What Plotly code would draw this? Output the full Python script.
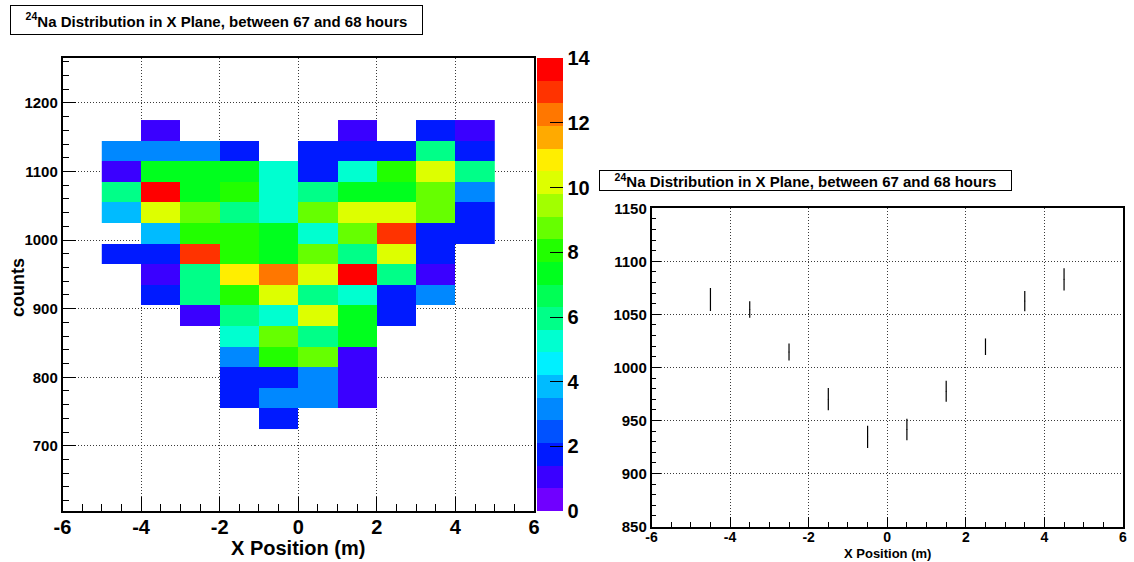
import plotly.graph_objects as go

# ---------------- data ----------------
x_centers = [-4.5, -3.5, -2.5, -1.5, -0.5, 0.5, 1.5, 2.5, 3.5, 4.5]
y_centers = [740, 770, 800, 830, 860, 890, 920, 950, 980, 1010, 1040, 1070, 1100, 1130, 1160]
N = None
counts = [
    [N, N, N, N, 2, N, N, N, N, N],        # 740
    [N, N, N, 2, 3, 3, 1, N, N, N],        # 770
    [N, N, N, 2, 2, 3, 1, N, N, N],        # 800
    [N, N, N, 3, 8, 9, 1, N, N, N],        # 830
    [N, N, N, 5, 9, 6, 7, N, N, N],        # 860
    [N, N, 1, 6, 5, 10, 7, 2, N, N],       # 890
    [N, 2, 6, 8, 10, 6, 5, 2, 3, N],       # 920
    [N, 1, 6, 11, 12, 10, 14, 6, 1, N],    # 950
    [2, 2, 13, 8, 7, 9, 6, 10, 2, N],      # 980
    [N, 4, 8, 8, 7, 5, 9, 13, 2, 2],       # 1010
    [4, 10, 9, 6, 5, 9, 10, 10, 9, 2],     # 1040
    [6, 14, 7, 8, 5, 6, 7, 7, 9, 3],       # 1070
    [1, 7, 7, 7, 5, 2, 5, 8, 10, 6],       # 1100
    [3, 3, 3, 2, N, 2, 2, 2, 6, 2],        # 1130
    [N, 1, N, N, N, N, 1, N, 2, 1],        # 1160
]

profile_x = [-4.5, -3.5, -2.5, -1.5, -0.5, 0.5, 1.5, 2.5, 3.5, 4.5]
profile_mean = [1064, 1054.5, 1014.5, 970, 934.5, 941.5, 977.5, 1019.5, 1062.5, 1083]
profile_err = [10.8, 7.8, 8.0, 10.5, 10.4, 10.1, 10.0, 7.8, 9.5, 10.5]

x_tickvals = [-6, -4, -2, 0, 2, 4, 6]
x_ticktext = ["-6", "-4", "-2", "0", "2", "4", "6"]
y_tickvals_left = [700, 800, 900, 1000, 1100, 1200]
y_tickvals_right = [850, 900, 950, 1000, 1050, 1100, 1150]
cbar_ticks = [0, 2, 4, 6, 8, 10, 12, 14]

title_text = "<sup>24</sup>Na Distribution in X Plane, between 67 and 68 hours"
x_title = "X Position (m)"
y_title = "counts"

palette = [
    "#7000FF", "#3A00FF", "#001AFF", "#0052FF", "#0088FF",
    "#00BBFF", "#00F0FF", "#00FFD0", "#00FF88", "#00FF55",
    "#00FF1E", "#22FF00", "#66FF00", "#A2FF00", "#DDFF00",
    "#FFEE00", "#FFAA00", "#FF7700", "#FF3300", "#FF0000",
]

# ---------------- figure ----------------
W, H = 1134, 562
FONT = "Liberation Sans"


def px_x(p):
    return p / W


def px_y(p):
    return 1 - p / H


# stepped colorscale (20 contour levels between 0 and 14)
n = len(palette)
colorscale = []
for i, c in enumerate(palette):
    lo = i / n
    hi = (i + 1) / n
    if abs(lo - 0.5) < 1e-9:
        lo = 0.4995
    if abs(hi - 0.5) < 1e-9:
        hi = 0.4995
    colorscale.append([lo, c])
    colorscale.append([hi, c])

fig = go.Figure()

fig.add_trace(go.Heatmap(
    x=x_centers, y=y_centers, z=counts,
    zmin=0, zmax=14, colorscale=colorscale,
    hoverongaps=False, xaxis="x", yaxis="y",
    colorbar=dict(
        x=px_x(537), xanchor="left", xpad=0,
        y=px_y((58.3 + 511) / 2), yanchor="middle", ypad=0,
        len=(511 - 58.3) / H, lenmode="fraction",
        thickness=26, thicknessmode="pixels",
        outlinewidth=0,
        tickmode="array", tickvals=cbar_ticks,
        ticks="inside", ticklen=13, tickcolor="black", tickwidth=1,
        tickfont=dict(family=FONT, size=20, color="black", weight="bold"),
    ),
))

fig.add_trace(go.Scatter(
    x=profile_x, y=profile_mean, mode="markers",
    marker=dict(size=1, color="black"),
    error_y=dict(type="data", array=profile_err, visible=True,
                 color="black", thickness=1.2, width=0),
    xaxis="x2", yaxis="y2", showlegend=False,
))

axis_common = dict(
    showline=True, linecolor="black", mirror=True, automargin=False,
    showgrid=True, gridcolor="#3a3a3a", griddash="1px,2px", gridwidth=1,
    zeroline=False, ticks="inside", tickcolor="black", tickwidth=1,
)

fig.update_layout(
    width=W, height=H, autosize=False,
    margin=dict(l=0, r=0, t=0, b=0, pad=0),
    paper_bgcolor="white", plot_bgcolor="white",
    showlegend=False,
    xaxis=dict(
        **axis_common,
        domain=[px_x(62.5), px_x(534)], range=[-6, 6], anchor="y",
        tickmode="array", tickvals=x_tickvals, ticktext=x_ticktext,
        ticklen=14, linewidth=1.5, ticklabelstandoff=-3,
        tickfont=dict(family=FONT, size=20, color="black", weight="bold"),
        minor=dict(ticks="inside", ticklen=7, tick0=-6, dtick=0.5,
                   tickcolor="black", showgrid=False),
    ),
    yaxis=dict(
        **axis_common,
        domain=[px_y(511), px_y(58.3)], range=[605, 1265], anchor="x",
        tickmode="array", tickvals=y_tickvals_left,
        ticklen=14, linewidth=1.5,
        tickfont=dict(family=FONT, size=15, color="black", weight="bold"),
        minor=dict(ticks="inside", ticklen=7, tick0=700, dtick=20,
                   tickcolor="black", showgrid=False),
    ),
    xaxis2=dict(
        **axis_common,
        domain=[px_x(651.5), px_x(1123)], range=[-6, 6], anchor="y2",
        tickmode="array", tickvals=x_tickvals, ticktext=x_ticktext,
        ticklen=10, linewidth=1.5, ticklabelstandoff=-3,
        tickfont=dict(family=FONT, size=14, color="black", weight="bold"),
        minor=dict(ticks="inside", ticklen=5, tick0=-6, dtick=0.5,
                   tickcolor="black", showgrid=False),
    ),
    yaxis2=dict(
        **axis_common,
        domain=[px_y(526.5), px_y(208.3)], range=[850, 1150], anchor="x2",
        tickmode="array", tickvals=y_tickvals_right,
        ticklen=10, linewidth=1.5,
        tickfont=dict(family=FONT, size=15, color="black", weight="bold"),
        minor=dict(ticks="inside", ticklen=5, tick0=850, dtick=10,
                   tickcolor="black", showgrid=False),
    ),
    annotations=[
        dict(text=title_text, xref="paper", yref="paper",
             x=px_x(216.5), y=px_y(20), xanchor="center", yanchor="middle",
             showarrow=False, bgcolor="white", bordercolor="black",
             borderwidth=1, borderpad=0, width=411, height=28,
             font=dict(family=FONT, size=15, color="black", weight="bold")),
        dict(text=title_text, xref="paper", yref="paper",
             x=px_x(805.5), y=px_y(180.5), xanchor="center", yanchor="middle",
             showarrow=False, bgcolor="white", bordercolor="black",
             borderwidth=1, borderpad=0, width=411, height=19,
             font=dict(family=FONT, size=15, color="black", weight="bold")),
        dict(text=y_title, xref="paper", yref="paper",
             x=px_x(18), y=px_y(288), xanchor="center", yanchor="middle",
             textangle=-90, showarrow=False,
             font=dict(family=FONT, size=18, color="black", weight="bold")),
        dict(text=x_title, xref="paper", yref="paper",
             x=px_x(298), y=px_y(548), xanchor="center", yanchor="middle",
             showarrow=False,
             font=dict(family=FONT, size=20, color="black", weight="bold")),
        dict(text=x_title, xref="paper", yref="paper",
             x=px_x(887), y=px_y(553), xanchor="center", yanchor="middle",
             showarrow=False,
             font=dict(family=FONT, size=13, color="black", weight="bold")),
    ],
)

fig.write_html("out.html")
